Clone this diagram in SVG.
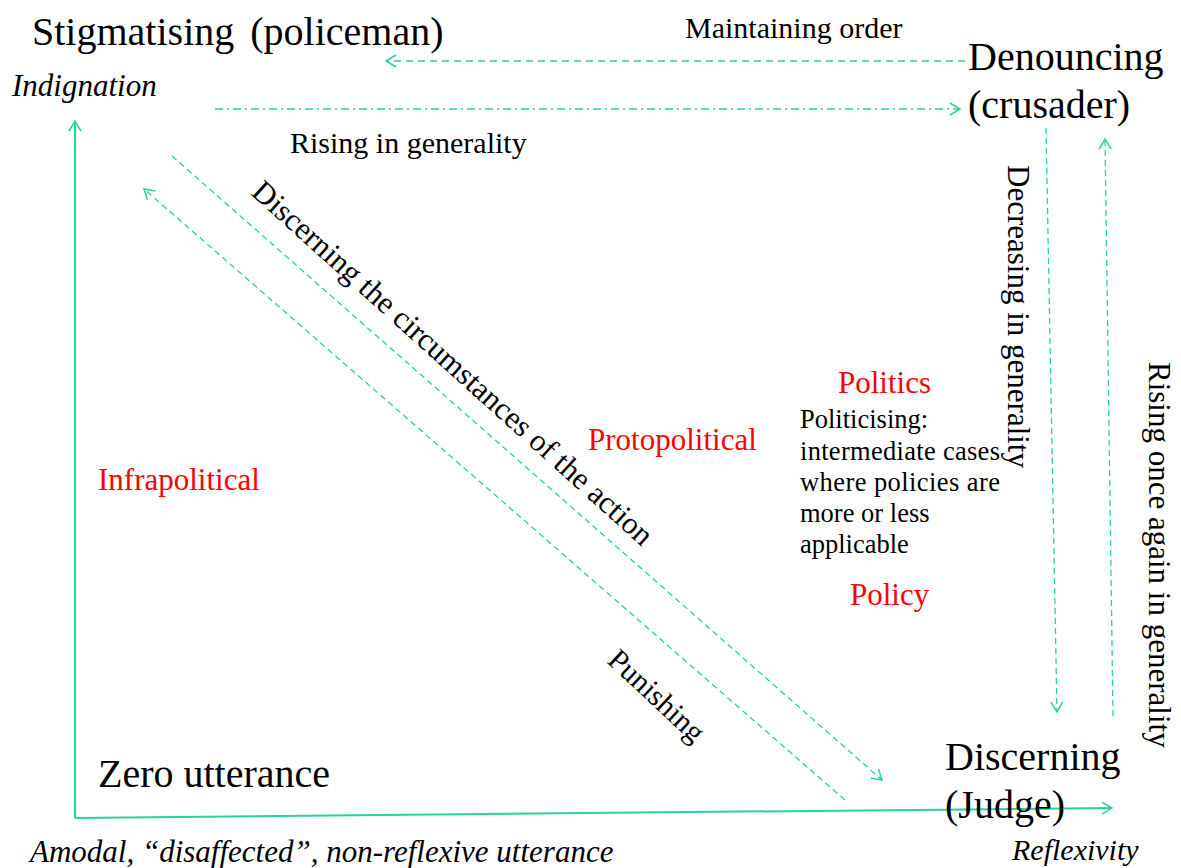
<svg xmlns="http://www.w3.org/2000/svg" width="1181" height="868" viewBox="0 0 1181 868">
<defs>
<marker id="arr" markerWidth="14" markerHeight="14" refX="11" refY="7" orient="auto" markerUnits="userSpaceOnUse">
<path d="M1,1 L11,7 L1,13" fill="none" stroke="#28d2a0" stroke-width="1.5"/>
</marker>
</defs>
<style>
.big{font-size:40px}
.mid{font-size:30px}
.lab{font-size:31px}
.it{font-style:italic}
.red{fill:#ff0000}
.small{font-size:26.5px}
.conn{fill:none;stroke:#28d2a0}
.solid{stroke-width:2}
.dash{stroke-width:1.5;stroke-dasharray:7 5}
.dashd{stroke-width:1.3;stroke-dasharray:6 4}
.dashdot{stroke-width:1.5;stroke-dasharray:8 4 2 4}
</style>
<rect width="1181" height="868" fill="#fff"/>
<g id="connectors">
<path class="conn solid" d="M75,818 L75,121" marker-end="url(#arr)"/>
<path class="conn solid" d="M75,818 L1112,808" marker-end="url(#arr)"/>
<path class="conn dash" d="M965,61 L386,61" marker-end="url(#arr)"/>
<path class="conn dashdot" d="M215,109 L960,109" marker-end="url(#arr)"/>
<path class="conn dashd" d="M172,156 L882,780" marker-end="url(#arr)"/>
<path class="conn dashd" d="M845,800 L144,189" marker-end="url(#arr)"/>
<path class="conn dashd" d="M1046,128 L1057,712" marker-end="url(#arr)"/>
<path class="conn dashd" d="M1113,716 L1105,139" marker-end="url(#arr)"/>
</g>
<g font-family="'Liberation Serif', 'Times New Roman', serif" fill="#000">
<g id="node-stigmatising">
<text class="big" x="32" y="45" word-spacing="6">Stigmatising (policeman)</text>
<text class="lab it" x="12" y="96">Indignation</text>
</g>
<g id="node-denouncing">
<text class="big" x="968" y="70">Denouncing</text>
<text class="big" x="968" y="118">(crusader)</text>
</g>
<g id="node-discerning">
<text class="big" x="945" y="770">Discerning</text>
<text class="big" x="945" y="818">(Judge)</text>
<text class="mid it" x="1012" y="860">Reflexivity</text>
</g>
<g id="node-zero">
<text class="big" x="98" y="787">Zero utterance</text>
<text class="it" font-size="31" x="30" y="862">Amodal, “disaffected”, non-reflexive utterance</text>
</g>
<g id="labels">
<text class="mid" x="685" y="38">Maintaining order</text>
<text class="mid" x="290" y="153">Rising in generality</text>
<text class="lab" transform="translate(250,194) rotate(42)">Discerning the circumstances of the action</text>
<text class="mid" transform="translate(606,662) rotate(43)">Punishing</text>
<text class="lab" transform="translate(1008,165) rotate(90)">Decreasing in generality</text>
<text class="lab" transform="translate(1149,362) rotate(90)">Rising once again in generality</text>
<text class="lab red" x="98" y="490">Infrapolitical</text>
<text class="lab red" x="588" y="450">Protopolitical</text>
<text class="lab red" x="838" y="393">Politics</text>
<text class="lab red" x="850" y="605">Policy</text>
<text class="small" x="800" y="428">Politicising:</text>
<text class="small" x="800" y="460" textLength="200" lengthAdjust="spacing">intermediate cases</text>
<text class="small" x="800" y="491" textLength="200" lengthAdjust="spacing">where policies are</text>
<text class="small" x="800" y="522">more or less</text>
<text class="small" x="800" y="553">applicable</text>
</g>
</g>
</svg>
